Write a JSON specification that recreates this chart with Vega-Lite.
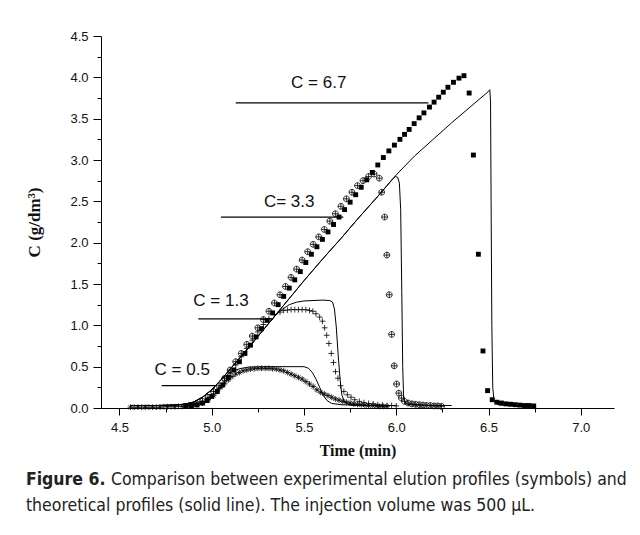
{
  "$schema": "https://vega.github.io/schema/vega-lite/v6.json",
  "width": 513,
  "height": 372,
  "autosize": {"type": "none"},
  "padding": {"left": 101, "top": 36, "right": 26, "bottom": 127},
  "background": "white",
  "config": {
    "view": {"stroke": null},
    "axis": {
      "domainColor": "black", "tickColor": "black", "grid": false,
      "labelFont": "Liberation Sans", "labelFontSize": 13, "labelColor": "#111",
      "titleFont": "Liberation Serif", "titleFontSize": 16, "titleFontWeight": "bold", "titleColor": "#111"
    }
  },
  "title": {
    "text": "Figure 6.",
    "subtitle": ["\u200b\u00a0\u00a0\u00a0\u00a0\u00a0\u00a0\u00a0\u00a0\u00a0\u00a0\u00a0\u00a0\u00a0\u00a0\u00a0\u00a0\u00a0Comparison between experimental elution profiles (symbols) and", "theoretical profiles (solid line). The injection volume was 500 µL."],
    "orient": "bottom", "anchor": "start", "frame": "bounds",
    "font": "DejaVu Sans Condensed", "fontSize": 17.5, "fontWeight": "bold", "color": "#222",
    "subtitleFont": "DejaVu Sans Condensed", "subtitleFontSize": 17.5, "subtitleFontWeight": "normal", "subtitleColor": "#222",
    "lineHeight": 17.5, "subtitleLineHeight": 26, "subtitlePadding": -17.5, "offset": 13
  },
  "datasets": {
    "lines": [
      {"s": "6.7", "t": 4.56, "c": 0.03}, {"s": "6.7", "t": 4.7, "c": 0.03}, {"s": "6.7", "t": 4.8, "c": 0.035}, {"s": "6.7", "t": 4.85, "c": 0.045}, {"s": "6.7", "t": 4.9, "c": 0.07}, {"s": "6.7", "t": 4.95, "c": 0.13}, {"s": "6.7", "t": 5.0, "c": 0.22}, {"s": "6.7", "t": 5.05, "c": 0.34}, {"s": "6.7", "t": 5.1, "c": 0.47}, {"s": "6.7", "t": 5.2, "c": 0.73}, {"s": "6.7", "t": 5.3, "c": 1.0}, {"s": "6.7", "t": 5.4, "c": 1.27}, {"s": "6.7", "t": 5.5, "c": 1.54}, {"s": "6.7", "t": 5.6, "c": 1.8}, {"s": "6.7", "t": 5.7, "c": 2.05}, {"s": "6.7", "t": 5.8, "c": 2.31}, {"s": "6.7", "t": 5.9, "c": 2.56}, {"s": "6.7", "t": 6.0, "c": 2.82}, {"s": "6.7", "t": 6.1, "c": 3.05}, {"s": "6.7", "t": 6.2, "c": 3.25}, {"s": "6.7", "t": 6.3, "c": 3.45}, {"s": "6.7", "t": 6.4, "c": 3.64}, {"s": "6.7", "t": 6.5, "c": 3.83}, {"s": "6.7", "t": 6.507, "c": 3.85}, {"s": "6.7", "t": 6.511, "c": 3.7}, {"s": "6.7", "t": 6.514, "c": 2.5}, {"s": "6.7", "t": 6.518, "c": 1.0}, {"s": "6.7", "t": 6.523, "c": 0.25}, {"s": "6.7", "t": 6.53, "c": 0.08}, {"s": "6.7", "t": 6.55, "c": 0.04}, {"s": "6.7", "t": 6.6, "c": 0.03}, {"s": "6.7", "t": 6.75, "c": 0.03},
      {"s": "3.3", "t": 4.56, "c": 0.03}, {"s": "3.3", "t": 4.7, "c": 0.03}, {"s": "3.3", "t": 4.8, "c": 0.035}, {"s": "3.3", "t": 4.85, "c": 0.045}, {"s": "3.3", "t": 4.9, "c": 0.07}, {"s": "3.3", "t": 4.95, "c": 0.13}, {"s": "3.3", "t": 5.0, "c": 0.22}, {"s": "3.3", "t": 5.05, "c": 0.34}, {"s": "3.3", "t": 5.1, "c": 0.47}, {"s": "3.3", "t": 5.2, "c": 0.73}, {"s": "3.3", "t": 5.3, "c": 1.0}, {"s": "3.3", "t": 5.4, "c": 1.27}, {"s": "3.3", "t": 5.5, "c": 1.54}, {"s": "3.3", "t": 5.6, "c": 1.8}, {"s": "3.3", "t": 5.7, "c": 2.05}, {"s": "3.3", "t": 5.8, "c": 2.31}, {"s": "3.3", "t": 5.9, "c": 2.56}, {"s": "3.3", "t": 5.95, "c": 2.69}, {"s": "3.3", "t": 5.98, "c": 2.77}, {"s": "3.3", "t": 5.995, "c": 2.8}, {"s": "3.3", "t": 6.008, "c": 2.79}, {"s": "3.3", "t": 6.017, "c": 2.72}, {"s": "3.3", "t": 6.024, "c": 2.4}, {"s": "3.3", "t": 6.03, "c": 1.4}, {"s": "3.3", "t": 6.035, "c": 0.5}, {"s": "3.3", "t": 6.04, "c": 0.12}, {"s": "3.3", "t": 6.05, "c": 0.05}, {"s": "3.3", "t": 6.1, "c": 0.035}, {"s": "3.3", "t": 6.3, "c": 0.03},
      {"s": "1.3", "t": 4.56, "c": 0.03}, {"s": "1.3", "t": 4.7, "c": 0.03}, {"s": "1.3", "t": 4.8, "c": 0.035}, {"s": "1.3", "t": 4.85, "c": 0.045}, {"s": "1.3", "t": 4.9, "c": 0.07}, {"s": "1.3", "t": 4.95, "c": 0.13}, {"s": "1.3", "t": 5.0, "c": 0.22}, {"s": "1.3", "t": 5.05, "c": 0.34}, {"s": "1.3", "t": 5.1, "c": 0.47}, {"s": "1.3", "t": 5.2, "c": 0.73}, {"s": "1.3", "t": 5.3, "c": 1.0}, {"s": "1.3", "t": 5.34, "c": 1.11}, {"s": "1.3", "t": 5.38, "c": 1.19}, {"s": "1.3", "t": 5.42, "c": 1.25}, {"s": "1.3", "t": 5.46, "c": 1.28}, {"s": "1.3", "t": 5.5, "c": 1.295}, {"s": "1.3", "t": 5.6, "c": 1.305}, {"s": "1.3", "t": 5.64, "c": 1.3}, {"s": "1.3", "t": 5.655, "c": 1.28}, {"s": "1.3", "t": 5.665, "c": 1.2}, {"s": "1.3", "t": 5.675, "c": 0.98}, {"s": "1.3", "t": 5.685, "c": 0.65}, {"s": "1.3", "t": 5.695, "c": 0.36}, {"s": "1.3", "t": 5.705, "c": 0.16}, {"s": "1.3", "t": 5.72, "c": 0.07}, {"s": "1.3", "t": 5.75, "c": 0.04}, {"s": "1.3", "t": 5.85, "c": 0.03}, {"s": "1.3", "t": 6.0, "c": 0.03},
      {"s": "0.5", "t": 4.56, "c": 0.03}, {"s": "0.5", "t": 4.7, "c": 0.03}, {"s": "0.5", "t": 4.8, "c": 0.035}, {"s": "0.5", "t": 4.85, "c": 0.045}, {"s": "0.5", "t": 4.9, "c": 0.07}, {"s": "0.5", "t": 4.95, "c": 0.13}, {"s": "0.5", "t": 5.0, "c": 0.22}, {"s": "0.5", "t": 5.05, "c": 0.34}, {"s": "0.5", "t": 5.1, "c": 0.43}, {"s": "0.5", "t": 5.15, "c": 0.475}, {"s": "0.5", "t": 5.2, "c": 0.495}, {"s": "0.5", "t": 5.3, "c": 0.5}, {"s": "0.5", "t": 5.5, "c": 0.5}, {"s": "0.5", "t": 5.525, "c": 0.48}, {"s": "0.5", "t": 5.545, "c": 0.43}, {"s": "0.5", "t": 5.565, "c": 0.35}, {"s": "0.5", "t": 5.585, "c": 0.25}, {"s": "0.5", "t": 5.605, "c": 0.15}, {"s": "0.5", "t": 5.625, "c": 0.09}, {"s": "0.5", "t": 5.65, "c": 0.055}, {"s": "0.5", "t": 5.7, "c": 0.04}, {"s": "0.5", "t": 5.8, "c": 0.03}, {"s": "0.5", "t": 5.9, "c": 0.03}
    ],
    "squares": [
      {"t": 4.86, "c": 0.025}, {"t": 4.89, "c": 0.03}, {"t": 4.92, "c": 0.04}, {"t": 4.95, "c": 0.06}, {"t": 4.975, "c": 0.09}, {"t": 5.0, "c": 0.14}, {"t": 5.03, "c": 0.2}, {"t": 5.06, "c": 0.28}, {"t": 5.09, "c": 0.37}, {"t": 5.12, "c": 0.46}, {"t": 5.15, "c": 0.56}, {"t": 5.18, "c": 0.66}, {"t": 5.21, "c": 0.76}, {"t": 5.24, "c": 0.86}, {"t": 5.27, "c": 0.96}, {"t": 5.3, "c": 1.06}, {"t": 5.33, "c": 1.15}, {"t": 5.36, "c": 1.25}, {"t": 5.39, "c": 1.35}, {"t": 5.42, "c": 1.45}, {"t": 5.45, "c": 1.55}, {"t": 5.48, "c": 1.65}, {"t": 5.51, "c": 1.76}, {"t": 5.54, "c": 1.86}, {"t": 5.57, "c": 1.95}, {"t": 5.6, "c": 2.04}, {"t": 5.63, "c": 2.13}, {"t": 5.66, "c": 2.22}, {"t": 5.69, "c": 2.31}, {"t": 5.72, "c": 2.4}, {"t": 5.75, "c": 2.49}, {"t": 5.78, "c": 2.58}, {"t": 5.81, "c": 2.67}, {"t": 5.84, "c": 2.76}, {"t": 5.87, "c": 2.85}, {"t": 5.9, "c": 2.94}, {"t": 5.93, "c": 3.03}, {"t": 5.96, "c": 3.11}, {"t": 5.99, "c": 3.18}, {"t": 6.02, "c": 3.25}, {"t": 6.045, "c": 3.31}, {"t": 6.07, "c": 3.37}, {"t": 6.097, "c": 3.44}, {"t": 6.124, "c": 3.51}, {"t": 6.15, "c": 3.57}, {"t": 6.18, "c": 3.64}, {"t": 6.205, "c": 3.7}, {"t": 6.23, "c": 3.76}, {"t": 6.255, "c": 3.82}, {"t": 6.28, "c": 3.88}, {"t": 6.31, "c": 3.94}, {"t": 6.34, "c": 3.99}, {"t": 6.367, "c": 4.02}, {"t": 6.395, "c": 3.81}, {"t": 6.418, "c": 3.06}, {"t": 6.445, "c": 1.86}, {"t": 6.47, "c": 0.69}, {"t": 6.495, "c": 0.21}, {"t": 6.52, "c": 0.1}, {"t": 6.545, "c": 0.07}, {"t": 6.57, "c": 0.06}, {"t": 6.595, "c": 0.05}, {"t": 6.62, "c": 0.045}, {"t": 6.645, "c": 0.04}, {"t": 6.67, "c": 0.035}, {"t": 6.695, "c": 0.03}, {"t": 6.72, "c": 0.03}, {"t": 6.745, "c": 0.025}
    ],
    "pts": [
      {"s": "3.3", "t": 4.89, "c": 0.03}, {"s": "3.3", "t": 4.92, "c": 0.05}, {"s": "3.3", "t": 4.95, "c": 0.08}, {"s": "3.3", "t": 4.98, "c": 0.13}, {"s": "3.3", "t": 5.01, "c": 0.2}, {"s": "3.3", "t": 5.04, "c": 0.27}, {"s": "3.3", "t": 5.07, "c": 0.36}, {"s": "3.3", "t": 5.1, "c": 0.46}, {"s": "3.3", "t": 5.13, "c": 0.56}, {"s": "3.3", "t": 5.16, "c": 0.66}, {"s": "3.3", "t": 5.19, "c": 0.77}, {"s": "3.3", "t": 5.22, "c": 0.87}, {"s": "3.3", "t": 5.25, "c": 0.97}, {"s": "3.3", "t": 5.28, "c": 1.07}, {"s": "3.3", "t": 5.31, "c": 1.17}, {"s": "3.3", "t": 5.34, "c": 1.27}, {"s": "3.3", "t": 5.37, "c": 1.37}, {"s": "3.3", "t": 5.4, "c": 1.47}, {"s": "3.3", "t": 5.43, "c": 1.58}, {"s": "3.3", "t": 5.46, "c": 1.68}, {"s": "3.3", "t": 5.49, "c": 1.79}, {"s": "3.3", "t": 5.52, "c": 1.89}, {"s": "3.3", "t": 5.55, "c": 1.98}, {"s": "3.3", "t": 5.58, "c": 2.07}, {"s": "3.3", "t": 5.61, "c": 2.16}, {"s": "3.3", "t": 5.64, "c": 2.26}, {"s": "3.3", "t": 5.67, "c": 2.35}, {"s": "3.3", "t": 5.7, "c": 2.44}, {"s": "3.3", "t": 5.73, "c": 2.53}, {"s": "3.3", "t": 5.76, "c": 2.61}, {"s": "3.3", "t": 5.79, "c": 2.69}, {"s": "3.3", "t": 5.82, "c": 2.75}, {"s": "3.3", "t": 5.85, "c": 2.8}, {"s": "3.3", "t": 5.88, "c": 2.83}, {"s": "3.3", "t": 5.908, "c": 2.78}, {"s": "3.3", "t": 5.921, "c": 2.61}, {"s": "3.3", "t": 5.937, "c": 2.31}, {"s": "3.3", "t": 5.949, "c": 1.85}, {"s": "3.3", "t": 5.962, "c": 1.37}, {"s": "3.3", "t": 5.975, "c": 0.89}, {"s": "3.3", "t": 5.989, "c": 0.51}, {"s": "3.3", "t": 6.002, "c": 0.29}, {"s": "3.3", "t": 6.014, "c": 0.18}, {"s": "3.3", "t": 6.028, "c": 0.12}, {"s": "3.3", "t": 6.045, "c": 0.08}, {"s": "3.3", "t": 6.065, "c": 0.06}, {"s": "3.3", "t": 6.085, "c": 0.05}, {"s": "3.3", "t": 6.105, "c": 0.045}, {"s": "3.3", "t": 6.125, "c": 0.04}, {"s": "3.3", "t": 6.145, "c": 0.035}, {"s": "3.3", "t": 6.165, "c": 0.03}, {"s": "3.3", "t": 6.185, "c": 0.03}, {"s": "3.3", "t": 6.205, "c": 0.025}, {"s": "3.3", "t": 6.225, "c": 0.025}, {"s": "3.3", "t": 6.245, "c": 0.02},
      {"s": "1.3", "t": 4.58, "c": 0.01}, {"s": "1.3", "t": 4.62, "c": 0.01}, {"s": "1.3", "t": 4.66, "c": 0.01}, {"s": "1.3", "t": 4.7, "c": 0.01}, {"s": "1.3", "t": 4.74, "c": 0.015}, {"s": "1.3", "t": 4.78, "c": 0.015}, {"s": "1.3", "t": 4.82, "c": 0.02}, {"s": "1.3", "t": 4.86, "c": 0.025}, {"s": "1.3", "t": 4.9, "c": 0.04}, {"s": "1.3", "t": 4.95, "c": 0.06}, {"s": "1.3", "t": 4.98, "c": 0.1}, {"s": "1.3", "t": 5.01, "c": 0.17}, {"s": "1.3", "t": 5.04, "c": 0.24}, {"s": "1.3", "t": 5.07, "c": 0.33}, {"s": "1.3", "t": 5.1, "c": 0.42}, {"s": "1.3", "t": 5.13, "c": 0.52}, {"s": "1.3", "t": 5.16, "c": 0.62}, {"s": "1.3", "t": 5.19, "c": 0.72}, {"s": "1.3", "t": 5.22, "c": 0.82}, {"s": "1.3", "t": 5.25, "c": 0.92}, {"s": "1.3", "t": 5.28, "c": 1.01}, {"s": "1.3", "t": 5.31, "c": 1.08}, {"s": "1.3", "t": 5.34, "c": 1.13}, {"s": "1.3", "t": 5.37, "c": 1.16}, {"s": "1.3", "t": 5.39, "c": 1.18}, {"s": "1.3", "t": 5.41, "c": 1.185}, {"s": "1.3", "t": 5.43, "c": 1.19}, {"s": "1.3", "t": 5.45, "c": 1.19}, {"s": "1.3", "t": 5.47, "c": 1.19}, {"s": "1.3", "t": 5.49, "c": 1.19}, {"s": "1.3", "t": 5.51, "c": 1.19}, {"s": "1.3", "t": 5.53, "c": 1.18}, {"s": "1.3", "t": 5.548, "c": 1.17}, {"s": "1.3", "t": 5.565, "c": 1.14}, {"s": "1.3", "t": 5.585, "c": 1.1}, {"s": "1.3", "t": 5.6, "c": 1.05}, {"s": "1.3", "t": 5.612, "c": 0.97}, {"s": "1.3", "t": 5.623, "c": 0.88}, {"s": "1.3", "t": 5.635, "c": 0.78}, {"s": "1.3", "t": 5.648, "c": 0.66}, {"s": "1.3", "t": 5.66, "c": 0.55}, {"s": "1.3", "t": 5.671, "c": 0.44}, {"s": "1.3", "t": 5.684, "c": 0.36}, {"s": "1.3", "t": 5.698, "c": 0.27}, {"s": "1.3", "t": 5.716, "c": 0.2}, {"s": "1.3", "t": 5.735, "c": 0.16}, {"s": "1.3", "t": 5.755, "c": 0.13}, {"s": "1.3", "t": 5.775, "c": 0.1}, {"s": "1.3", "t": 5.8, "c": 0.08}, {"s": "1.3", "t": 5.825, "c": 0.065}, {"s": "1.3", "t": 5.85, "c": 0.055}, {"s": "1.3", "t": 5.875, "c": 0.05}, {"s": "1.3", "t": 5.9, "c": 0.04}, {"s": "1.3", "t": 5.925, "c": 0.035}, {"s": "1.3", "t": 5.95, "c": 0.03}, {"s": "1.3", "t": 5.975, "c": 0.03}, {"s": "1.3", "t": 6.0, "c": 0.025},
      {"s": "0.5", "t": 4.56, "c": 0.01}, {"s": "0.5", "t": 4.6, "c": 0.01}, {"s": "0.5", "t": 4.64, "c": 0.01}, {"s": "0.5", "t": 4.68, "c": 0.01}, {"s": "0.5", "t": 4.72, "c": 0.01}, {"s": "0.5", "t": 4.76, "c": 0.015}, {"s": "0.5", "t": 4.8, "c": 0.015}, {"s": "0.5", "t": 4.84, "c": 0.02}, {"s": "0.5", "t": 4.88, "c": 0.025}, {"s": "0.5", "t": 4.92, "c": 0.03}, {"s": "0.5", "t": 4.95, "c": 0.06}, {"s": "0.5", "t": 4.98, "c": 0.1}, {"s": "0.5", "t": 5.01, "c": 0.15}, {"s": "0.5", "t": 5.03, "c": 0.2}, {"s": "0.5", "t": 5.05, "c": 0.25}, {"s": "0.5", "t": 5.07, "c": 0.3}, {"s": "0.5", "t": 5.09, "c": 0.34}, {"s": "0.5", "t": 5.11, "c": 0.38}, {"s": "0.5", "t": 5.13, "c": 0.41}, {"s": "0.5", "t": 5.15, "c": 0.43}, {"s": "0.5", "t": 5.17, "c": 0.45}, {"s": "0.5", "t": 5.19, "c": 0.46}, {"s": "0.5", "t": 5.21, "c": 0.47}, {"s": "0.5", "t": 5.23, "c": 0.475}, {"s": "0.5", "t": 5.25, "c": 0.48}, {"s": "0.5", "t": 5.27, "c": 0.48}, {"s": "0.5", "t": 5.29, "c": 0.48}, {"s": "0.5", "t": 5.31, "c": 0.48}, {"s": "0.5", "t": 5.33, "c": 0.475}, {"s": "0.5", "t": 5.35, "c": 0.47}, {"s": "0.5", "t": 5.37, "c": 0.46}, {"s": "0.5", "t": 5.39, "c": 0.45}, {"s": "0.5", "t": 5.41, "c": 0.43}, {"s": "0.5", "t": 5.43, "c": 0.41}, {"s": "0.5", "t": 5.45, "c": 0.39}, {"s": "0.5", "t": 5.47, "c": 0.37}, {"s": "0.5", "t": 5.49, "c": 0.35}, {"s": "0.5", "t": 5.51, "c": 0.32}, {"s": "0.5", "t": 5.53, "c": 0.29}, {"s": "0.5", "t": 5.55, "c": 0.26}, {"s": "0.5", "t": 5.57, "c": 0.22}, {"s": "0.5", "t": 5.59, "c": 0.19}, {"s": "0.5", "t": 5.61, "c": 0.17}, {"s": "0.5", "t": 5.63, "c": 0.15}, {"s": "0.5", "t": 5.65, "c": 0.13}, {"s": "0.5", "t": 5.67, "c": 0.11}, {"s": "0.5", "t": 5.69, "c": 0.095}, {"s": "0.5", "t": 5.71, "c": 0.08}, {"s": "0.5", "t": 5.73, "c": 0.07}, {"s": "0.5", "t": 5.75, "c": 0.06}, {"s": "0.5", "t": 5.77, "c": 0.05}, {"s": "0.5", "t": 5.79, "c": 0.045}, {"s": "0.5", "t": 5.81, "c": 0.04}, {"s": "0.5", "t": 5.83, "c": 0.035}, {"s": "0.5", "t": 5.85, "c": 0.03}, {"s": "0.5", "t": 5.87, "c": 0.03}, {"s": "0.5", "t": 5.89, "c": 0.025}, {"s": "0.5", "t": 5.91, "c": 0.02}, {"s": "0.5", "t": 5.93, "c": 0.02}, {"s": "0.5", "t": 5.95, "c": 0.02}
    ],
    "notes": [
      {"label": "C = 6.7", "tx": 5.58, "ty": 3.93, "x1": 5.13, "x2": 6.174, "yl": 3.69},
      {"label": "C= 3.3", "tx": 5.42, "ty": 2.49, "x1": 5.05, "x2": 5.713, "yl": 2.31},
      {"label": "C = 1.3", "tx": 5.05, "ty": 1.3, "x1": 4.927, "x2": 5.334, "yl": 1.079},
      {"label": "C = 0.5", "tx": 4.84, "ty": 0.46, "x1": 4.729, "x2": 5.018, "yl": 0.27}
    ]
  },
  "encoding": {
    "x": {
      "field": "t", "type": "quantitative",
      "scale": {"domain": [4.4, 7.18], "nice": false, "zero": false},
      "axis": {
        "title": "Time (min)",
        "values": [4.5, 4.75, 5.0, 5.25, 5.5, 5.75, 6.0, 6.25, 6.5, 6.75, 7.0],
        "labelExpr": "round(datum.value*4)%2==0 ? format(datum.value,'.1f') : ''",
        "tickSize": {"condition": {"test": "round(datum.value*4)%2==0", "value": 7}, "value": 4},
        "labelPadding": 6, "titlePadding": 8
      }
    },
    "y": {
      "field": "c", "type": "quantitative",
      "scale": {"domain": [0, 4.5], "nice": false},
      "axis": {
        "title": "C (g/dm³)",
        "values": [0, 0.25, 0.5, 0.75, 1.0, 1.25, 1.5, 1.75, 2.0, 2.25, 2.5, 2.75, 3.0, 3.25, 3.5, 3.75, 4.0, 4.25, 4.5],
        "labelExpr": "round(datum.value*4)%2==0 ? format(datum.value,'.1f') : ''",
        "tickSize": {"condition": {"test": "round(datum.value*4)%2==0", "value": 8}, "value": 4},
        "labelPadding": 5, "titlePadding": 26, "titleFontSize": 17
      }
    }
  },
  "layer": [
    {
      "data": {"name": "lines"},
      "mark": {"type": "line", "color": "black", "strokeWidth": 1},
      "encoding": {"detail": {"field": "s"}}
    },
    {
      "data": {"name": "pts"},
      "mark": {"type": "point", "filled": false, "color": "black", "strokeWidth": 0.8, "size": 34, "opacity": 1},
      "encoding": {
        "shape": {
          "field": "s", "type": "nominal", "legend": null,
          "scale": {
            "domain": ["3.3", "1.3", "0.5"],
            "range": [
              "M-1,0A1,1,0,1,0,1,0A1,1,0,1,0,-1,0ZM-1,0L1,0M0,-1L0,1",
              "M-1,0L1,0M0,-1L0,1",
              "M-1,0L1,0M0,-1L0,1M-0.7,-0.7L0.7,0.7M-0.7,0.7L0.7,-0.7"
            ]
          }
        }
      }
    },
    {
      "data": {"name": "squares"},
      "mark": {"type": "point", "shape": "square", "filled": true, "color": "black", "size": 24, "opacity": 1}
    },
    {
      "data": {"name": "notes"},
      "mark": {"type": "rule", "color": "black", "strokeWidth": 1.3},
      "encoding": {
        "x": {"field": "x1", "type": "quantitative"},
        "x2": {"field": "x2"},
        "y": {"field": "yl", "type": "quantitative"}
      }
    },
    {
      "data": {"name": "notes"},
      "mark": {"type": "text", "font": "Liberation Sans", "fontSize": 17, "color": "#111"},
      "encoding": {
        "x": {"field": "tx", "type": "quantitative"},
        "y": {"field": "ty", "type": "quantitative"},
        "text": {"field": "label"}
      }
    }
  ]
}
